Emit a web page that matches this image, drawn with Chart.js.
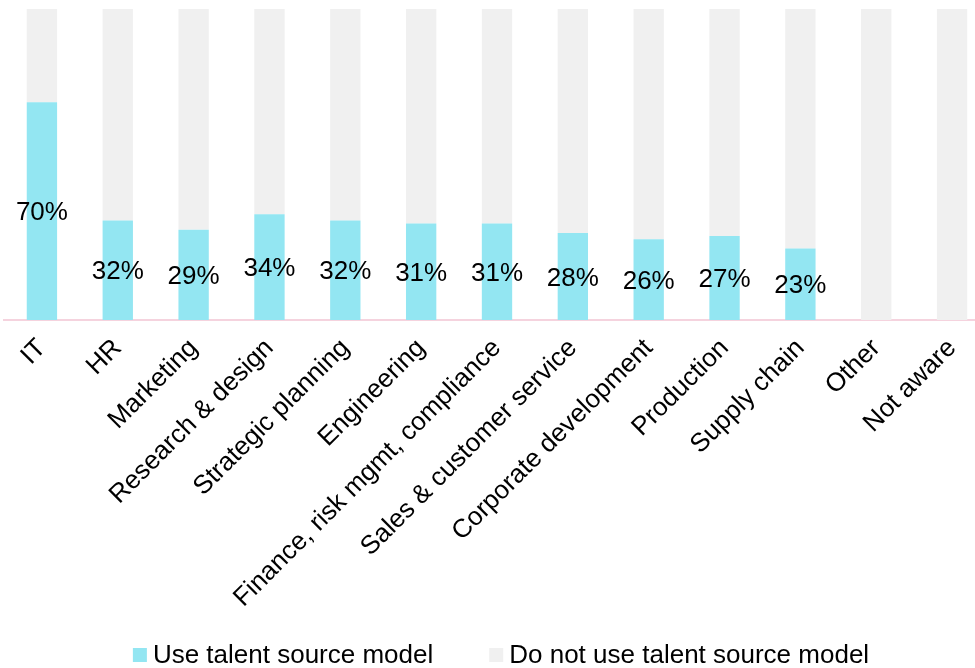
<!DOCTYPE html>
<html>
<head>
<meta charset="utf-8">
<script src="https://cdn.jsdelivr.net/npm/chart.js@4"></script>
<style>
    html, body { margin: 0; padding: 0; background: #ffffff; overflow: hidden; }
    #wrap { position: relative; width: 990px; height: 668px; }
</style>
</head>
<body>
<div id="wrap"><canvas id="talentChart"></canvas></div>
<script>
// --- Chart data ---
const functions = [
    'IT', 'HR', 'Marketing', 'Research & design', 'Strategic planning', 'Engineering',
    'Finance, risk mgmt, compliance', 'Sales & customer service', 'Corporate development',
    'Production', 'Supply chain', 'Other', 'Not aware'
];
const useModel = [70, 32, 29, 34, 32, 31, 31, 28, 26, 27, 23, 0, 0];
const notUseModel = [30, 68, 71, 66, 68, 69, 69, 72, 74, 73, 77, 100, 100];

const FONT = "'Liberation Sans', Arial, sans-serif";

/**
 * Writes the percentage in the middle of each cyan bar.
 */
const barValueLabels = {
    id: 'barValueLabels',
    afterDatasetsDraw(chart) {
        const { ctx } = chart;
        const meta = chart.getDatasetMeta(0);
        ctx.save();
        ctx.font = '26px ' + FONT;
        ctx.fillStyle = '#000000';
        ctx.textAlign = 'center';
        ctx.textBaseline = 'middle';
        meta.data.forEach((bar, i) => {
            const v = useModel[i];
            if (!v) return;
            ctx.fillText(v + '%', bar.x, (bar.y + bar.base) / 2 + 2);
        });
        ctx.restore();
    }
};

/**
 * Compact legend along the bottom: small square, short gap, label.
 * (the built-in one ties item spacing to its vertical padding)
 */
const bottomLegend = {
    id: 'bottomLegend',
    afterDraw(chart) {
        const { ctx, chartArea } = chart;
        const box = 14, textGap = 6, itemGap = 56;
        const y = chart.height - 13;
        ctx.save();
        ctx.font = '26px ' + FONT;
        ctx.textBaseline = 'middle';
        ctx.textAlign = 'left';
        const items = chart.data.datasets.map(ds => ({
            text: ds.label,
            color: ds.backgroundColor,
            width: box + textGap + ctx.measureText(ds.label).width
        }));
        const total = items.reduce((s, it) => s + it.width, 0) + itemGap * (items.length - 1);
        let x = (chartArea.left + chart.width) / 2 + 4 - total / 2;
        items.forEach(it => {
            ctx.fillStyle = it.color;
            ctx.fillRect(x, y - box / 2, box, box);
            ctx.fillStyle = '#000000';
            ctx.fillText(it.text, x + box + textGap, y + 1);
            x += it.width + itemGap;
        });
        ctx.restore();
    }
};

const ctx = document.getElementById('talentChart').getContext('2d');
new Chart(ctx, {
    type: 'bar',
    data: {
        labels: functions,
        datasets: [
            { label: 'Use talent source model', data: useModel, backgroundColor: '#93e6f2' },
            { label: 'Do not use talent source model', data: notUseModel, backgroundColor: '#f0f0f0' }
        ]
    },
    options: {
        responsive: true,
        maintainAspectRatio: false,
        animation: false,
        devicePixelRatio: 1,
        datasets: {
            bar: { barPercentage: 0.4, categoryPercentage: 1.0 }
        },
        layout: { padding: { top: 9, left: 4, right: 0, bottom: 50 } },
        scales: {
            x: {
                stacked: true,
                grid: { display: false },
                border: { display: true, color: '#f5d3de', width: 2 },
                ticks: {
                    minRotation: 45,
                    maxRotation: 45,
                    autoSkip: false,
                    padding: 5,
                    color: '#000000',
                    font: { size: 26, family: FONT }
                },
                // just enough room for the longest rotated label
                afterFit(scale) {
                    scale.height = 298;
                }
            },
            y: {
                stacked: true,
                display: false,
                min: 0,
                max: 100
            }
        },
        plugins: {
            legend: { display: false },
            tooltip: { enabled: false }
        }
    },
    plugins: [barValueLabels, bottomLegend]
});
</script>
</body>
</html>
